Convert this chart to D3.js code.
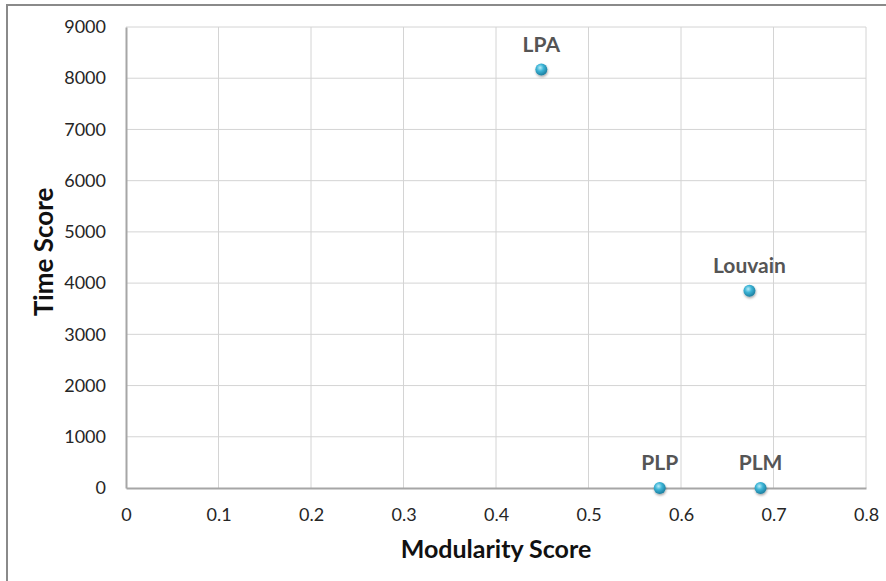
<!DOCTYPE html>
<html>
<head>
<meta charset="utf-8">
<script src="https://cdn.jsdelivr.net/npm/d3@7"></script>
<style>
  body { margin: 0; background: #fff; }
  svg { display: block; font-family: Lato, "Open Sans", sans-serif; }
</style>
</head>
<body>
<svg id="chart" width="886" height="581"></svg>
<script>
// data
const names = ["LPA", "Louvain", "PLP", "PLM"];
const modularity = [0.449, 0.674, 0.577, 0.686];
const timeScore = [8170, 3850, 0, 0];
const xTicks = [0, 0.1, 0.2, 0.3, 0.4, 0.5, 0.6, 0.7, 0.8];
const yTicks = [0, 1000, 2000, 3000, 4000, 5000, 6000, 7000, 8000, 9000];

const svg = d3.select("#chart");
const plotLeft = 126, plotRight = 866, plotTop = 27, plotBottom = 488;

const x = d3.scaleLinear().domain([0, 0.8]).range([plotLeft, plotRight]);
const y = d3.scaleLinear().domain([0, 9000]).range([plotBottom, plotTop]);

// outer frame
svg.append("rect")
    .attr("x", 7).attr("y", 5)
    .attr("width", 900).attr("height", 600)
    .attr("fill", "none")
    .attr("stroke", "#8a8a8a")
    .attr("stroke-width", 2);

const defs = svg.append("defs");
const grad = defs.append("radialGradient")
    .attr("id", "ball")
    .attr("cx", "40%").attr("cy", "35%").attr("r", "65%");
grad.append("stop").attr("offset", "0%").attr("stop-color", "#b8ecf8");
grad.append("stop").attr("offset", "45%").attr("stop-color", "#3cb4d6");
grad.append("stop").attr("offset", "100%").attr("stop-color", "#1d7fa0");
const shadow = defs.append("filter").attr("id", "shadow")
    .attr("x", "-50%").attr("y", "-50%").attr("width", "200%").attr("height", "200%");
shadow.append("feDropShadow")
    .attr("dx", 0.5).attr("dy", 1.5).attr("stdDeviation", 1.2)
    .attr("flood-color", "#000").attr("flood-opacity", 0.35);

// gridlines
svg.append("g")
    .selectAll("line")
    .data(yTicks.filter(d => d > 0))
    .join("line")
    .attr("x1", plotLeft).attr("x2", plotRight)
    .attr("y1", d => y(d)).attr("y2", d => y(d))
    .attr("stroke", "#d4d4d4").attr("stroke-width", 1);
svg.append("g")
    .selectAll("line")
    .data(xTicks.filter(d => d > 0))
    .join("line")
    .attr("x1", d => x(d)).attr("x2", d => x(d))
    .attr("y1", plotTop).attr("y2", plotBottom)
    .attr("stroke", "#d4d4d4").attr("stroke-width", 1);

// axes
const xAxis = svg.append("g")
    .attr("transform", `translate(0,${plotBottom})`)
    .call(d3.axisBottom(x).tickValues(xTicks).tickFormat(d3.format("")).tickSize(0).tickPadding(20));
const yAxis = svg.append("g")
    .attr("transform", `translate(${plotLeft},0)`)
    .call(d3.axisLeft(y).tickValues(yTicks).tickFormat(d3.format("d")).tickSize(0).tickPadding(20));
[xAxis, yAxis].forEach(a => {
    a.attr("font-size", null).attr("font-family", null);
    a.select(".domain").attr("stroke", "#a6a6a6").attr("stroke-width", 2);
    a.selectAll("text")
        .attr("fill", "#262626")
        .attr("font-size", 18);
});

// axis titles
svg.append("text")
    .attr("x", 496).attr("y", 558)
    .attr("text-anchor", "middle")
    .attr("font-weight", "bold")
    .attr("font-size", 25)
    .attr("fill", "#111")
    .text("Modularity Score");
svg.append("text")
    .attr("transform", "translate(53,252) rotate(-90)")
    .attr("text-anchor", "middle")
    .attr("font-weight", "bold")
    .attr("font-size", 26)
    .attr("fill", "#111")
    .text("Time Score");

// points
const pts = names.map((n, i) => ({ name: n, m: modularity[i], t: timeScore[i] }));
const g = svg.append("g");
g.selectAll("circle")
    .data(pts)
    .join("circle")
    .attr("cx", d => x(d.m))
    .attr("cy", d => y(d.t))
    .attr("r", 6)
    .attr("fill", "url(#ball)")
    .attr("filter", "url(#shadow)");
g.selectAll("text")
    .data(pts)
    .join("text")
    .attr("x", d => x(d.m))
    .attr("y", d => y(d.t) - 18)
    .attr("text-anchor", "middle")
    .attr("font-weight", "bold")
    .attr("font-size", 21)
    .attr("fill", "#555")
    .text(d => d.name);
</script>
</body>
</html>
